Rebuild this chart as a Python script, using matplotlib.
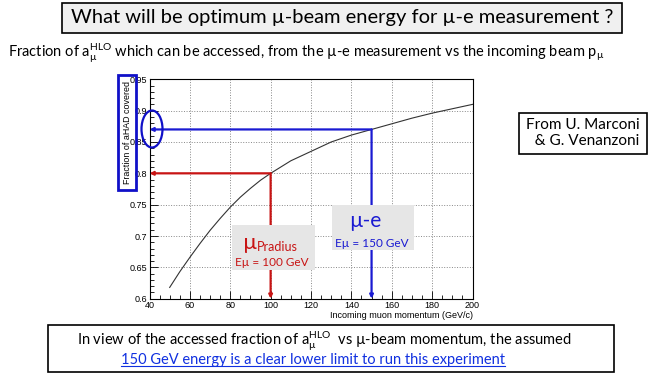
import matplotlib
matplotlib.use('Agg')
import matplotlib.pyplot as plt
from matplotlib.patches import Rectangle, Ellipse
from matplotlib.lines import Line2D
from matplotlib.ticker import MultipleLocator
import numpy as np

plt.rcParams['font.family'] = ['Lato', 'DejaVu Sans']
plt.rcParams['mathtext.fontset'] = 'custom'
plt.rcParams['mathtext.rm'] = 'Lato'
plt.rcParams['mathtext.it'] = 'Lato'

# curve
momentum = [50, 55, 60, 65, 70, 75, 80, 85, 90, 95, 100, 110, 120, 130, 140, 150,
            160, 170, 180, 190, 200]
fraction = [0.618, 0.643, 0.666, 0.688, 0.709, 0.728, 0.746, 0.762, 0.776, 0.789, 0.800,
            0.820, 0.835, 0.850, 0.861, 0.870, 0.879, 0.888, 0.896, 0.903, 0.910]

# marked beam energies
beam_energy = [100, 150]

W, H = 664, 374
RED = '#c81414'
BLUE = '#1a1ad2'
ROOT_FONT = 'Liberation Sans'


def fx(px):
    return px / W


def fy(py):
    return 1 - py / H


fig = plt.figure(figsize=(W / 100, H / 100), dpi=100)
ax = fig.add_axes([fx(149.5), fy(298.7), (472.5 - 149.5) / W, (298.7 - 79.3) / H])

ax.plot(momentum, fraction, color='#333333', lw=0.8)
ax.set_xlim(40, 200)
ax.set_ylim(0.6, 0.95)
ax.xaxis.set_major_locator(MultipleLocator(20))
ax.xaxis.set_minor_locator(MultipleLocator(5))
ax.yaxis.set_minor_locator(MultipleLocator(0.01))
ax.set_yticks(np.arange(0.6, 0.951, 0.05))
ax.set_yticklabels(['0.6', '0.65', '0.7', '0.75', '0.8', '0.85', '0.9', '0.95'])
ax.tick_params(which='both', direction='in', labelsize=6.5, pad=1.5)
ax.tick_params(which='major', length=6, width=0.6)
ax.tick_params(which='minor', length=3, width=0.6)
for lab in ax.get_xticklabels() + ax.get_yticklabels():
    lab.set_family(ROOT_FONT)
ax.grid(True, which='major', ls=':', color='#888888', lw=0.7)
for s in ax.spines.values():
    s.set_linewidth(0.8)
ax.set_xlabel('Incoming muon momentum (GeV/c)', fontsize=6.5, family=ROOT_FONT,
              loc='right', labelpad=1)

# arrows from the curve to the axes
colors = [RED, BLUE]
for e, c in zip(beam_energy, colors):
    f = np.interp(e, momentum, fraction)
    ax.annotate('', xy=(40, f), xytext=(e, f),
                arrowprops=dict(arrowstyle='-|>', color=c, lw=1.6, mutation_scale=5,
                                shrinkA=0, shrinkB=0))
    ax.annotate('', xy=(e, 0.6), xytext=(e, f),
                arrowprops=dict(arrowstyle='-|>', color=c, lw=1.6, mutation_scale=5,
                                shrinkA=0, shrinkB=0))

# y label in blue box
fig.add_artist(Rectangle((fx(118), fy(190)), 18 / W, 115 / H, transform=fig.transFigure,
                         fc='none', ec='#1010c8', lw=2, zorder=5))
fig.text(fx(127.5), fy(132), 'Fraction of aHAD covered', rotation=90, fontsize=6.4,
         family=ROOT_FONT, ha='center', va='center', zorder=6)
fig.add_artist(Ellipse((fx(152), fy(129)), 21 / W, 37 / H, transform=fig.transFigure,
                       fill=False, ec='#1010c8', lw=1.6, zorder=5))

# gray label boxes
fig.add_artist(Rectangle((fx(232), fy(270)), 83 / W, 45 / H, transform=fig.transFigure,
                         fc='#e6e6e6', ec='none', zorder=5))
fig.text(fx(243), fy(243), 'µ', fontsize=16, color=RED, ha='left', va='center', zorder=6)
fig.text(fx(257), fy(247), 'Pradius', fontsize=9, color=RED, ha='left', va='center', zorder=6)
fig.text(fx(272), fy(263), 'Eµ = 100 GeV', fontsize=8.5, color=RED, ha='center', va='center',
         zorder=6)

fig.add_artist(Rectangle((fx(332), fy(250)), 82 / W, 45 / H, transform=fig.transFigure,
                         fc='#e6e6e6', ec='none', zorder=5))
fig.text(fx(365), fy(221), 'µ-e', fontsize=15, color=BLUE, ha='center', va='center', zorder=6)
fig.text(fx(372), fy(243), 'Eµ = 150 GeV', fontsize=8.5, color=BLUE, ha='center', va='center',
         zorder=6)

# title box
fig.add_artist(Rectangle((fx(62), fy(33)), (622 - 62) / W, 30 / H, transform=fig.transFigure,
                         fc='#f0f0f0', ec='black', lw=1.2, zorder=5))
fig.text(fx(342), fy(18), 'What will be optimum µ-beam energy for µ-e measurement ?',
         fontsize=14.5, ha='center', va='center', zorder=6)

fig.text(fx(8), fy(53), r'Fraction of a$\mathregular{_µ^{HLO}}$ which can be accessed, '
         r'from the µ-e measurement vs the incoming beam p$\mathregular{_µ}$',
         fontsize=10.5, ha='left', va='center')

# author box
fig.add_artist(Rectangle((fx(519), fy(154)), 128 / W, 41 / H, transform=fig.transFigure,
                         fc='white', ec='black', lw=1.2, zorder=5))
fig.text(fx(583), fy(133), 'From U. Marconi\n  & G. Venanzoni', fontsize=11,
         ha='center', va='center', linespacing=1.15, zorder=6)

# bottom conclusion box
fig.add_artist(Rectangle((fx(48), fy(372)), (614 - 48) / W, 47 / H, transform=fig.transFigure,
                         fc='white', ec='black', lw=1.2, zorder=5))
fig.text(fx(77), fy(341), r'In view of the accessed fraction of a$\mathregular{_µ^{HLO}}$  '
         r'vs µ-beam momentum, the assumed', fontsize=10.5, ha='left', va='center', zorder=6)
link = fig.text(fx(121), fy(360), '150 GeV energy is a clear lower limit to run this experiment',
                fontsize=10.5, color='#1030e0', ha='left', va='center', zorder=6)
fig.canvas.draw()
bb = link.get_window_extent().transformed(fig.transFigure.inverted())
fig.add_artist(Line2D([bb.x0, bb.x1], [bb.y0 + 0.004, bb.y0 + 0.004], color='#1030e0',
                      lw=0.8, transform=fig.transFigure, zorder=6))

fig.savefig('out.png', dpi=100)
